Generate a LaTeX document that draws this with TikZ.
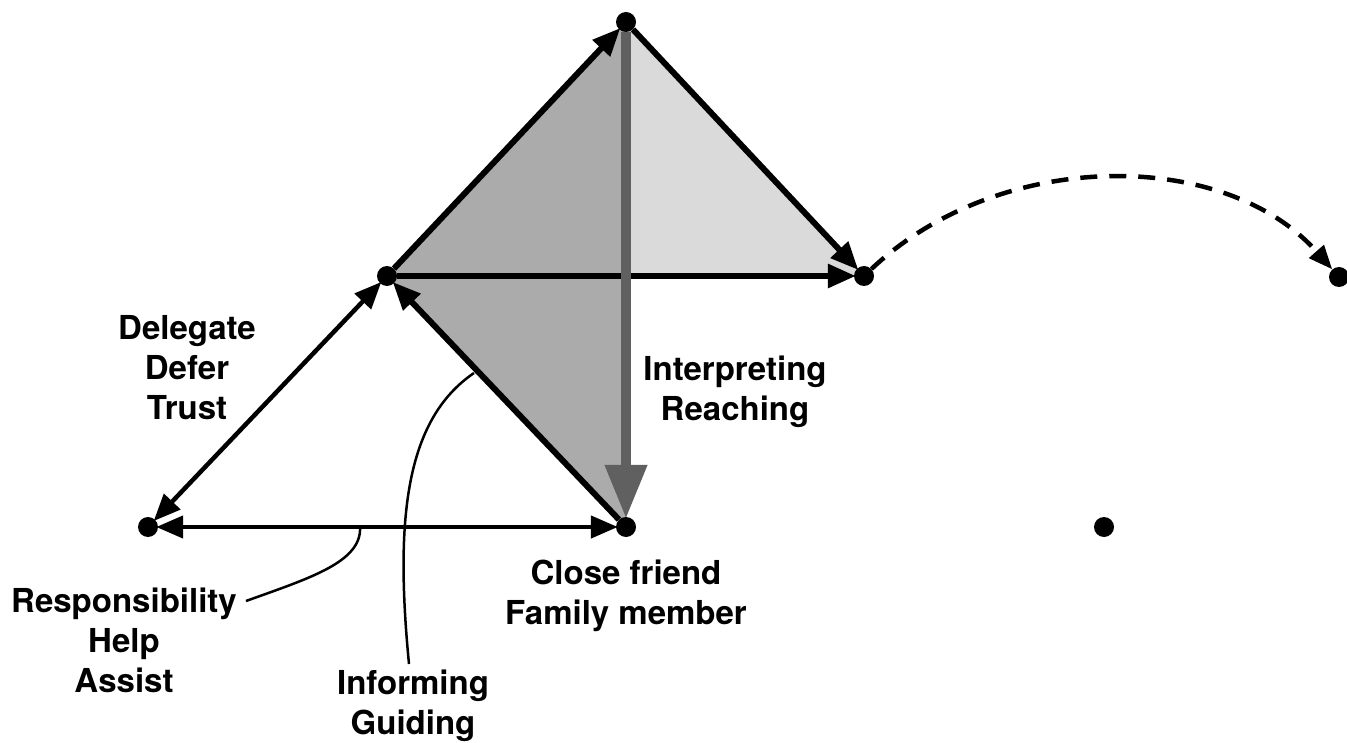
\documentclass[tikz,border=0pt]{standalone}
\usepackage{fontspec}
\setmainfont{TeX Gyre Heros}
\usetikzlibrary{arrows.meta}
\definecolor{darkfill}{HTML}{ABABAB}
\definecolor{lightfill}{HTML}{DADADA}
\definecolor{grayline}{HTML}{606060}
\begin{document}
\begin{tikzpicture}[x=1pt,y=-1pt,
  dot/.style={circle,fill=black,inner sep=0pt,minimum size=20pt},
  edge/.style={line width=6pt,-{Triangle[length=28pt,width=23pt]},shorten >=-2pt},
  thinedge/.style={line width=4.5pt,{Triangle[length=27pt,width=22pt]}-{Triangle[length=27pt,width=22pt]},shorten >=-2pt,shorten <=-2pt},
  grayarrow/.style={line width=10.5pt,grayline,-{Triangle[length=54pt,width=40pt]},shorten >=-2pt},
  dashedge/.style={line width=4.5pt,dash pattern=on 17pt off 12pt,-{Triangle[length=24pt,width=19pt]}},
  leader/.style={line width=2.5pt},
  lbl/.style={font=\fontsize{33}{40}\selectfont\bfseries,align=center,inner sep=0pt}]
\useasboundingbox (0,0) rectangle (1347,743);
\fill[white] (0,0) rectangle (1347,743);
% points
\coordinate (Tp) at (626,22);
\coordinate (Lp) at (387,276);
\coordinate (Rp) at (864,276);
\coordinate (Bp) at (626,527);
\coordinate (Mp) at (626,276);
% shading
\fill[darkfill] (Lp) -- (Tp) -- (Bp) -- cycle;
\fill[lightfill] (Tp) -- (Rp) -- (Mp) -- cycle;
% dots
\node[dot] (T) at (Tp) {};
\node[dot] (L) at (Lp) {};
\node[dot] (R) at (Rp) {};
\node[dot] (B) at (Bp) {};
\node[dot] (FL) at (148,527) {};
\node[dot] (FR) at (1339,277) {};
\node[dot] (D) at (1104,527) {};
% edges
\draw[edge] (L) -- (T);
\draw[edge] (T) -- (R);
\draw[edge] (L) -- (R);
\draw[edge] (B) -- (L);
\draw[thinedge] (L) -- (FL);
\draw[thinedge] (FL) -- (B);
\draw[grayarrow] (T) -- (B);
\draw[dashedge] (R) .. controls (1000,148) and (1225,148) .. (FR);
% labels
\node[lbl] (dele) at (187,368) {Delegate\\Defer\\Trust};
\node[lbl] (interp) at (735,392) {Interpreting\\Reaching};
\node[lbl] (close) at (626,596) {Close friend\\Family member};
\node[lbl] (resp) at (124,640) {Responsibility\\Help\\Assist};
\node[lbl] (inform) at (413,706) {Informing\\Guiding};
% leaders
\coordinate (r1) at (360,527);
\coordinate (r2) at (246,601);
\draw[leader] (r1) .. controls (362,562) and (310,578) .. (r2);
\coordinate (i1) at (474,373);
\coordinate (i2) at (409,664);
\draw[leader] (i1) .. controls (405,420) and (395,520) .. (i2);
\end{tikzpicture}
\end{document}
